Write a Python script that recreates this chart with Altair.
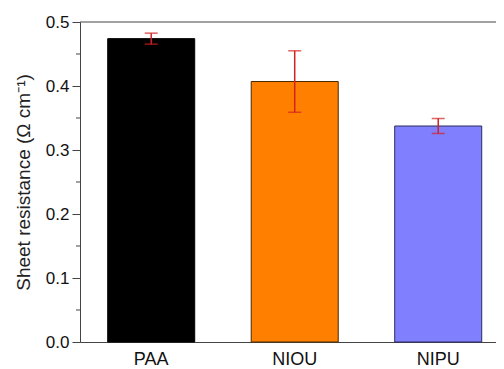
import altair as alt
import pandas as pd

# Sheet resistance per film type, with standard deviations
samples = ["PAA", "NIOU", "NIPU"]
resistance = [0.474, 0.407, 0.3375]
std_dev = [0.0086, 0.048, 0.0117]
fill_colors = ["#000000", "#ff8000", "#8080ff"]
edge_colors = ["#000000", "#4a2800", "#2b2b5e"]

major_ticks = [0.0, 0.1, 0.2, 0.3, 0.4, 0.5]
minor_ticks = [0.05, 0.15, 0.25, 0.35, 0.45]

df = pd.DataFrame({
    "sample": samples,
    "value": resistance,
    "lo": [v - s for v, s in zip(resistance, std_dev)],
    "hi": [v + s for v, s in zip(resistance, std_dev)],
})
minor_df = pd.DataFrame({"v": minor_ticks})

FONT = "Liberation Sans"

x_enc = alt.X(
    "sample:N",
    sort=samples,
    scale=alt.Scale(paddingInner=0.3937, paddingOuter=0.1463, align=0.66, round=False),
    axis=alt.Axis(title=None, ticks=False, labelAngle=0, labelFontSize=18,
                  labelFont=FONT, labelColor="#111111", labelPadding=8,
                  domainColor="#444444", domainWidth=1),
)
y_scale = alt.Scale(domain=[0, 0.5], nice=False, zero=True)

bars = alt.Chart(df).mark_bar(strokeWidth=1).encode(
    x=x_enc,
    y=alt.Y("value:Q", scale=y_scale,
            axis=alt.Axis(values=major_ticks, format=".1f", tickSize=8,
                          tickColor="#444444", domainColor="#444444",
                          labelFontSize=17, labelFont=FONT, labelColor="#111111",
                          labelPadding=3, grid=False,
                          title="Sheet resistance (Ω cm⁻¹)", titleFontSize=19,
                          titleFont=FONT, titleFontWeight="normal",
                          titleColor="#222222", titlePadding=12)),
    color=alt.Color("sample:N", scale=alt.Scale(domain=samples, range=fill_colors), legend=None),
    stroke=alt.Stroke("sample:N", scale=alt.Scale(domain=samples, range=edge_colors), legend=None),
)

err = alt.Chart(df).mark_rule(color="#d42020", strokeWidth=1.5).encode(
    x=alt.X("sample:N", sort=samples),
    y=alt.Y("lo:Q", scale=y_scale),
    y2="hi:Q",
)
cap_lo = alt.Chart(df).mark_tick(color="#d42020", thickness=1.5, size=13, orient="horizontal").encode(
    x=alt.X("sample:N", sort=samples),
    y=alt.Y("lo:Q", scale=y_scale),
)
cap_hi = alt.Chart(df).mark_tick(color="#d42020", thickness=1.5, size=13, orient="horizontal").encode(
    x=alt.X("sample:N", sort=samples),
    y=alt.Y("hi:Q", scale=y_scale),
)

# minor ticks on the left axis
minor = alt.Chart(minor_df).mark_rule(color="#444444", strokeWidth=1).encode(
    x=alt.value(-4), x2=alt.value(0),
    y=alt.Y("v:Q", scale=y_scale),
)

# top frame line
top = alt.Chart(pd.DataFrame({"v": [0.5]})).mark_rule(color="#444444", strokeWidth=1).encode(
    y=alt.Y("v:Q", scale=y_scale),
)

chart = alt.layer(bars, err, cap_lo, cap_hi, minor, top).properties(
    width=416, height=320,
    background="white",
    autosize=alt.AutoSizeParams(type="none"),
    padding={"left": 80, "top": 22, "right": 0, "bottom": 27},
).configure_view(stroke="transparent", strokeWidth=0)

chart.save("out.html", embed_options={"renderer": "svg", "actions": False})
